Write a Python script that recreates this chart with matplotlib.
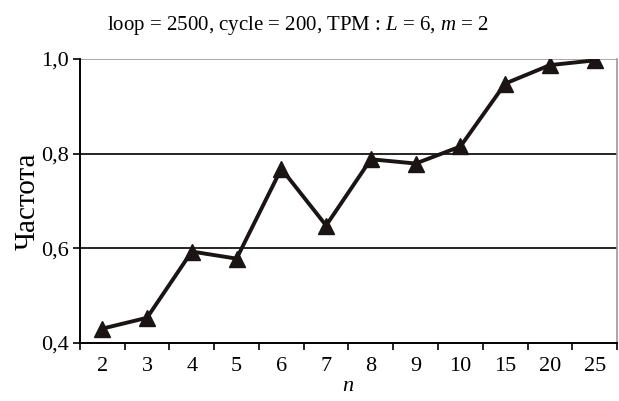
import matplotlib
matplotlib.use("Agg")
import matplotlib.pyplot as plt

n_labels = ["2", "3", "4", "5", "6", "7", "8", "9", "10", "15", "20", "25"]
frequency = [0.43, 0.453, 0.593, 0.578, 0.768, 0.648, 0.788, 0.779, 0.815, 0.948, 0.987, 0.997]
y_ticks = [0.4, 0.6, 0.8, 1.0]
y_tick_labels = ["0,4", "0,6", "0,8", "1,0"]

plt.rcParams["font.family"] = ["Liberation Serif", "DejaVu Serif"]
plt.rcParams["mathtext.fontset"] = "custom"
plt.rcParams["mathtext.it"] = "Liberation Serif:italic"
plt.rcParams["mathtext.rm"] = "Liberation Serif"

fig = plt.figure(figsize=(6.19, 4.01), dpi=100)
ax = fig.add_axes([0.129, 0.145, 0.868, 0.708])

x = list(range(len(n_labels)))
ax.plot(x, frequency, color="#1a1414", linewidth=2.8, marker="^", markersize=12,
        markerfacecolor="#1a1414", markeredgecolor="#1a1414", zorder=3)

ax.set_xlim(-0.5, len(n_labels) - 0.5)
ax.set_ylim(0.4, 1.0)
ax.set_yticks(y_ticks)
ax.set_yticklabels(y_tick_labels, fontsize=16)
ax.set_xticks(x)
ax.set_xticklabels(n_labels, fontsize=16)
ax.set_xticks([i - 0.5 for i in range(len(n_labels) + 1)], minor=True)
ax.tick_params(axis="x", which="major", length=0, pad=10)
ax.tick_params(axis="x", which="minor", length=5, width=1.2, direction="out")
ax.tick_params(axis="y", length=5, width=1.2, direction="out", pad=3)

for v in [0.6, 0.8]:
    ax.axhline(v, color="black", linewidth=1.2, zorder=1)
ax.axhline(1.0, color="#999999", linewidth=1.2, zorder=1)

ax.spines["left"].set_linewidth(1.4)
ax.spines["bottom"].set_linewidth(1.4)
ax.spines["top"].set_visible(False)
ax.spines["right"].set_color("#999999")
ax.spines["right"].set_linewidth(1.2)

ax.set_ylabel("Частота", fontsize=21, labelpad=0)
ax.set_xlabel("$n$", fontsize=16, labelpad=1)
fig.text(0.482, 0.925, "loop = 2500, cycle = 200, TPM : $L$ = 6, $m$ = 2",
         ha="center", va="baseline", fontsize=15)

fig.savefig("out.png", dpi=100)
